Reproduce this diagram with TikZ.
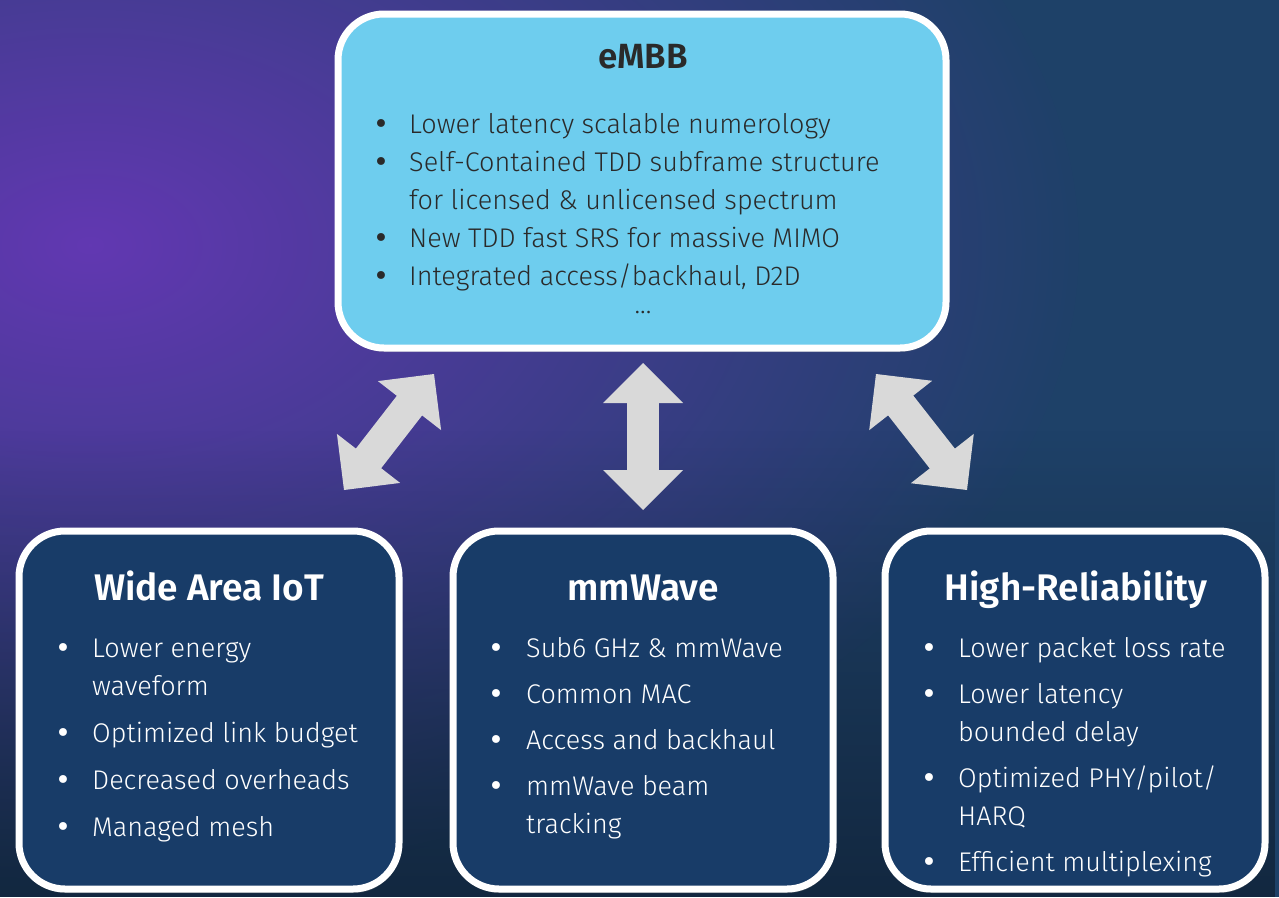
\documentclass[tikz,border=0pt]{standalone}
\usepackage{fontspec}
\setmainfont{Fira Sans}[UprightFont=* Light, BoldFont=* SemiBold]
\newfontfamily\bulletfont{DejaVu Sans}
\usetikzlibrary{arrows.meta,fadings,shadows}

\definecolor{bgnavy}{HTML}{1E4168}
\definecolor{bgpurple}{HTML}{6238B2}
\definecolor{embbfill}{HTML}{6ECDEE}
\definecolor{boxfill}{HTML}{183C68}
\definecolor{arrowgray}{HTML}{D9D9D9}
\definecolor{darktext}{HTML}{2A2A2A}

\tikzfading[name=glowfade, inner color=transparent!0, outer color=transparent!100]
\tikzfading[name=downfade, top color=transparent!100, bottom color=transparent!45]

\newcommand\bul[1]{\makebox[#1][l]{\bulletfont\textbullet}}

\tikzset{
  bigbox/.style={draw=white, line width=7pt, rounded corners=46pt, fill=boxfill,
    minimum width=380pt, minimum height=358pt,
    drop shadow={opacity=0.3, shadow xshift=1pt, shadow yshift=-4pt}},
  topbox/.style={bigbox, fill=embbfill, minimum width=608pt, minimum height=334pt},
  toptitle/.style={anchor=base, font=\bfseries\fontsize{35}{40}\selectfont, text=darktext},
  boxtitle/.style={anchor=base, font=\bfseries\fontsize{37}{42}\selectfont, text=white},
  toplist/.style={anchor=base west, inner sep=0pt, font=\fontsize{27}{38}\selectfont, text=darktext},
  boxlist/.style={anchor=base west, inner sep=0pt, font=\fontsize{27}{38}\selectfont, text=white},
  twoway/.style={arrowgray, line width=32pt, line cap=rect,
    {Triangle[length=40pt, width=80pt, line width=0pt]}-{Triangle[length=40pt, width=80pt, line width=0pt]}}
}

\begin{document}
\begin{tikzpicture}[x=1pt,y=-1pt]

  \useasboundingbox (0,0) rectangle (1279,897);

  % background
  \begin{scope}
    \clip (0,0) rectangle (1279,897);
    \fill[bgnavy] (0,0) rectangle (1279,897);
    \fill[bgpurple, path fading=glowfade] (90,245) ellipse [x radius=1000pt, y radius=640pt];
    \fill[black!70!bgnavy, path fading=downfade] (0,430) rectangle (1279,897);
  \end{scope}

  % boxes
  \node[topbox] (embb) at (642,181) {};
  \node[bigbox] (iot) at (209,710) {};
  \node[bigbox] (mmw) at (643,710) {};
  \node[bigbox] (hrel) at (1075,710) {};

  % titles
  \node[toptitle] (embbtitle) at (643,68) {eMBB};
  \node[boxtitle] (iottitle) at (209,600) {Wide Area IoT};
  \node[boxtitle] (mmwtitle) at (643,600) {mmWave};
  \node[boxtitle] (hreltitle) at (1076,600) {High-Reliability};

  % bullet lists
  \node[toplist] (embblist) at (373,133) {\begin{tabular}[t]{@{}l@{}l@{}}
    \bul{36pt} & Lower latency scalable numerology\\
    \bul{36pt} & Self-Contained TDD subframe structure\\
               & for licensed \& unlicensed spectrum\\
    \bul{36pt} & New TDD fast SRS for massive MIMO\\
    \bul{36pt} & Integrated access/backhaul, D2D
  \end{tabular}};
  \node[toplist, anchor=base] (embbdots) at (643,313) {...};

  \node[boxlist] (iotlist) at (55,657) {\begin{tabular}[t]{@{}l@{}l@{}}
    \bul{37pt} & Lower energy\\
               & waveform\\[9pt]
    \bul{37pt} & Optimized link budget\\[9pt]
    \bul{37pt} & Decreased overheads\\[9pt]
    \bul{37pt} & Managed mesh
  \end{tabular}};

  \node[boxlist] (mmwlist) at (488,657) {\begin{tabular}[t]{@{}l@{}l@{}}
    \bul{38pt} & Sub6 GHz \& mmWave\\[8pt]
    \bul{38pt} & Common MAC\\[8pt]
    \bul{38pt} & Access and backhaul\\[8pt]
    \bul{38pt} & mmWave beam\\
               & tracking
  \end{tabular}};

  \node[boxlist] (hrellist) at (921,657) {\begin{tabular}[t]{@{}l@{}l@{}}
    \bul{37pt} & Lower packet loss rate\\[8pt]
    \bul{37pt} & Lower latency\\
               & bounded delay\\[8pt]
    \bul{37pt} & Optimized PHY/pilot/\\
               & HARQ\\[8pt]
    \bul{37pt} & Efficient multiplexing
  \end{tabular}};

  % two-way arrows
  \coordinate (iottip) at (344,490);
  \coordinate (embbleft) at (434,374);
  \coordinate (mmwtip) at (643,510);
  \coordinate (embbmid) at (643,363);
  \coordinate (hreltip) at (967,490);
  \coordinate (embbright) at (876,374);
  \draw[twoway] (iottip) -- (embbleft);
  \draw[twoway] (mmwtip) -- (embbmid);
  \draw[twoway] (hreltip) -- (embbright);

\end{tikzpicture}
\end{document}
